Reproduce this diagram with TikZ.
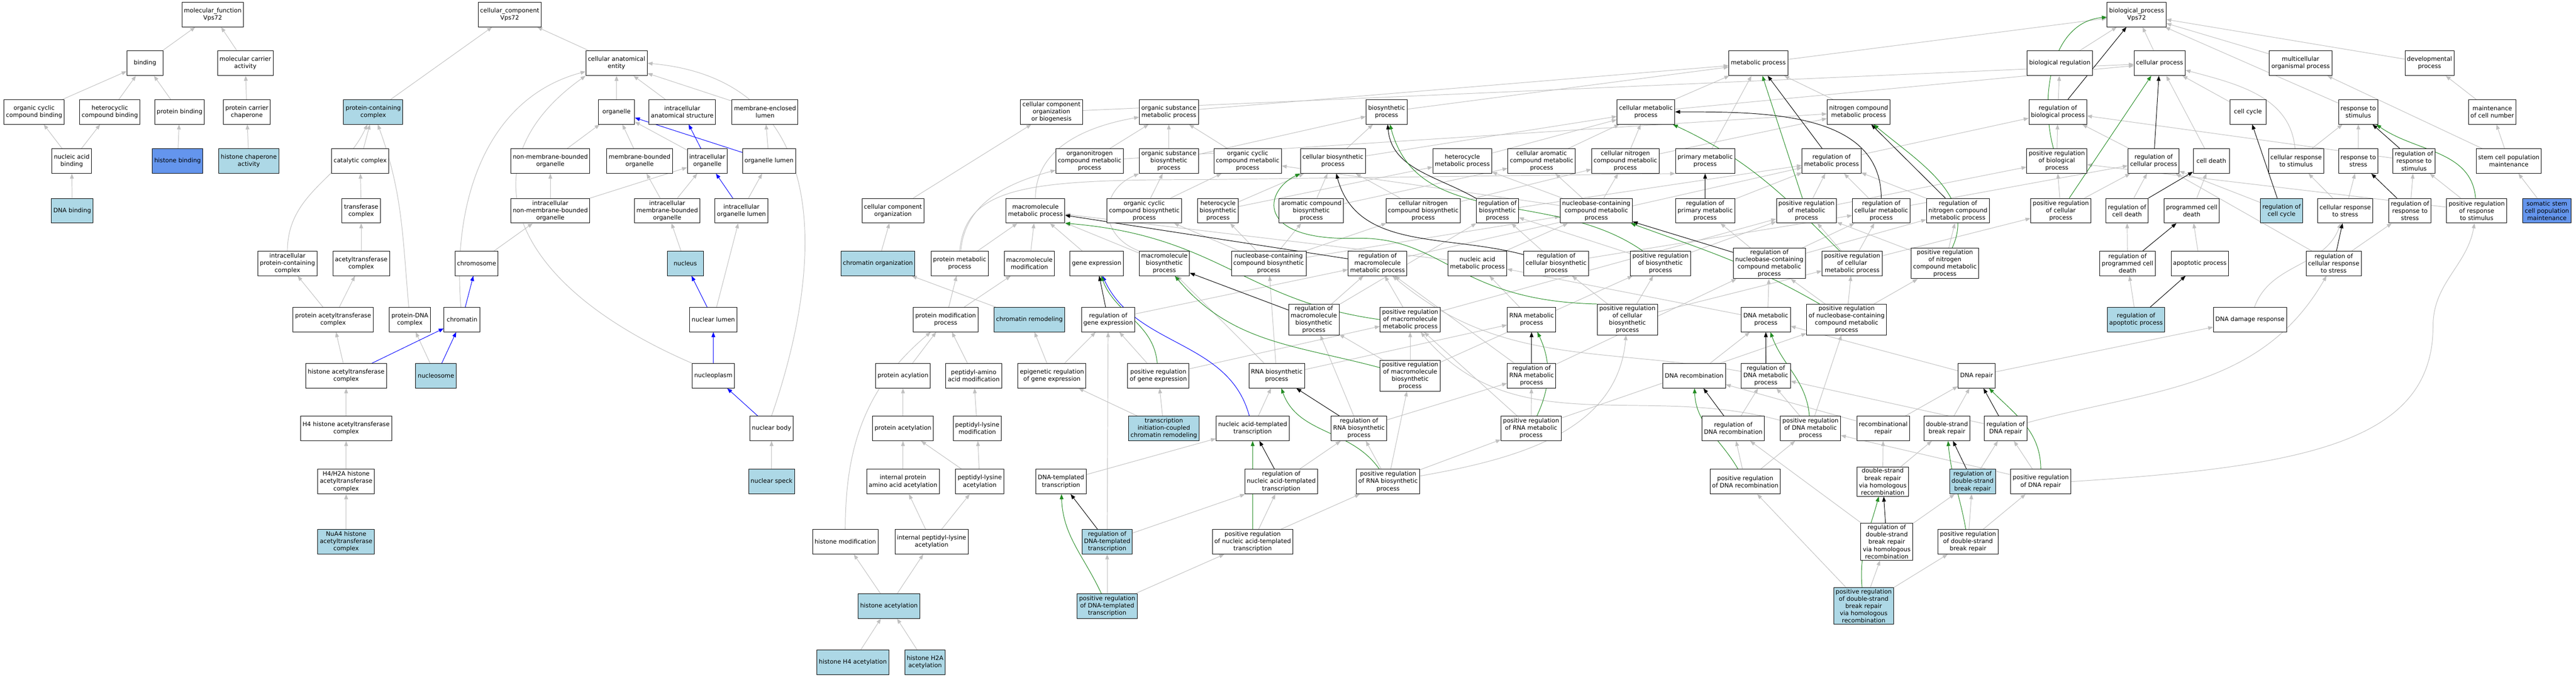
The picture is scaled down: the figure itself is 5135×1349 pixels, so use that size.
\documentclass[tikz,border=0pt]{standalone}
\usepackage{fontspec}
\setmainfont{DejaVu Sans}
\usetikzlibrary{arrows.meta}
\definecolor{lbcol}{HTML}{ADD8E6}
\definecolor{cbcol}{HTML}{6495ED}
\definecolor{egray}{HTML}{C0C0C0}
\definecolor{egreen}{HTML}{228B22}
\pgfdeclarelayer{bglayer}
\pgfdeclarelayer{edgelayer}
\pgfsetlayers{bglayer,edgelayer,main}
\def\rA{-29}\def\rB{-126}\def\rC{-223}\def\rD{-321}\def\rE{-420}\def\rF{-525}\def\rG{-637}
\def\rH{-749}\def\rI{-854}\def\rJ{-960}\def\rK{-1080}\def\rL{-1208}\def\rM{-1320}
\tikzset{
  gobox/.style={draw=black,line width=1pt,fill=white,rectangle,align=center,
    font=\fontsize{12}{14.5}\selectfont,minimum width=72pt,minimum height=49pt,
    inner xsep=4pt,inner ysep=3pt},
  lbbox/.style={gobox,fill=lbcol},
  cbbox/.style={gobox,fill=cbcol},
  isa/.style={draw=egray,line width=1pt,-{Triangle[length=10pt,width=7.5pt]}},
  partof/.style={isa,draw=blue},
  regl/.style={isa,draw=black},
  pregl/.style={isa,draw=egreen}
}
\begin{document}
\begin{tikzpicture}[x=1pt,y=1pt]
\useasboundingbox (0,0) rectangle (5135,-1349);
\begin{pgfonlayer}{bglayer}
\fill[white] (0,0) rectangle (5135,-1349);
\end{pgfonlayer}
% ---------- row A
\node[gobox] (mf) at (424,\rA) {molecular\_function\\Vps72};
\node[gobox] (cc) at (1016,\rA) {cellular\_component\\Vps72};
\node[gobox] (bp) at (4259,\rA) {biological\_process\\Vps72};
% ---------- row B
\node[gobox] (bind) at (289,\rB) {binding};
\node[gobox] (mca) at (489,\rB) {molecular carrier\\activity};
\node[gobox] (cae) at (1229,\rB) {cellular anatomical\\entity};
\node[gobox] (mp) at (3505,\rB) {metabolic process};
\node[gobox] (bioreg) at (4106,\rB) {biological regulation};
\node[gobox] (cp) at (4305,\rB) {cellular process};
\node[gobox] (mop) at (4586,\rB) {multicellular\\organismal process};
\node[gobox] (dev) at (4843,\rB) {developmental\\process};
% ---------- row C
\node[gobox] (ocb) at (68,\rC) {organic cyclic\\compound binding};
\node[gobox] (hcb) at (219,\rC) {heterocyclic\\compound binding};
\node[gobox] (pb) at (358,\rC) {protein binding};
\node[gobox] (pcc) at (492,\rC) {protein carrier\\chaperone};
\node[lbbox] (pcx) at (744,\rC) {protein-containing\\complex};
\node[gobox] (org) at (1229,\rC) {organelle};
\node[gobox] (ias) at (1360,\rC) {intracellular\\anatomical structure};
\node[gobox] (mel) at (1525,\rC) {membrane-enclosed\\lumen};
\node[gobox] (ccoob) at (2096,\rC) {cellular component\\organization\\or biogenesis};
\node[gobox] (osmp) at (2330,\rC) {organic substance\\metabolic process};
\node[gobox] (bsp) at (2764,\rC) {biosynthetic\\process};
\node[gobox] (cmp) at (3281,\rC) {cellular metabolic\\process};
\node[gobox] (ncmp) at (3705,\rC) {nitrogen compound\\metabolic process};
\node[gobox] (rbp) at (4102,\rC) {regulation of\\biological process};
\node[gobox] (ccyc) at (4481,\rC) {cell cycle};
\node[gobox] (rts) at (4701,\rC) {response to\\stimulus};
\node[gobox] (mcn) at (4968,\rC) {maintenance\\of cell number};
% ---------- row D
\node[gobox] (nab) at (143,\rD) {nucleic acid\\binding};
\node[cbbox] (hb) at (354,\rD) {histone binding};
\node[lbbox] (hca) at (496,\rD) {histone chaperone\\activity};
\node[gobox] (catc) at (718,\rD) {catalytic complex};
\node[gobox] (nmbo) at (1097,\rD) {non-membrane-bounded\\organelle};
\node[gobox] (mbo) at (1275,\rD) {membrane-bounded\\organelle};
\node[gobox] (io) at (1410,\rD) {intracellular\\organelle};
\node[gobox] (ol) at (1533,\rD) {organelle lumen};
\node[gobox] (onmp) at (2172,\rD) {organonitrogen\\compound metabolic\\process};
\node[gobox] (osbsp) at (2330,\rD) {organic substance\\biosynthetic\\process};
\node[gobox] (occmp) at (2487,\rD) {organic cyclic\\compound metabolic\\process};
\node[gobox] (cbsp) at (2657,\rD) {cellular biosynthetic\\process};
\node[gobox] (hmp) at (2915,\rD) {heterocycle\\metabolic process};
\node[gobox] (camp) at (3073,\rD) {cellular aromatic\\compound metabolic\\process};
\node[gobox] (cncmp) at (3240,\rD) {cellular nitrogen\\compound metabolic\\process};
\node[gobox] (pmp) at (3399,\rD) {primary metabolic\\process};
\node[gobox] (rmp) at (3651,\rD) {regulation of\\metabolic process};
\node[gobox] (prbp) at (4100,\rD) {positive regulation\\of biological\\process};
\node[gobox] (rcp) at (4293,\rD) {regulation of\\cellular process};
\node[gobox] (cdeath) at (4408,\rD) {cell death};
\node[gobox] (crs) at (4577,\rD) {cellular response\\to stimulus};
\node[gobox] (rstress) at (4701,\rD) {response to\\stress};
\node[gobox] (rrs) at (4812,\rD) {regulation of\\response to\\stimulus};
\node[gobox] (scpm) at (5001,\rD) {stem cell population\\maintenance};
% ---------- row E
\node[lbbox] (dnab) at (144,\rE) {DNA binding};
\node[gobox] (tc) at (720,\rE) {transferase\\complex};
\node[gobox] (inmbo) at (1097,\rE) {intracellular\\non-membrane-bounded\\organelle};
\node[gobox] (imbo) at (1330,\rE) {intracellular\\membrane-bounded\\organelle};
\node[gobox] (iol) at (1478,\rE) {intracellular\\organelle lumen};
\node[gobox] (cco) at (1780,\rE) {cellular component\\organization};
\node[gobox] (mmp) at (2064,\rE) {macromolecule\\metabolic process};
\node[gobox] (occbsp) at (2281,\rE) {organic cyclic\\compound biosynthetic\\process};
\node[gobox] (hbsp) at (2428,\rE) {heterocycle\\biosynthetic\\process};
\node[gobox] (acbsp) at (2614,\rE) {aromatic compound\\biosynthetic\\process};
\node[gobox] (cncbsp) at (2837,\rE) {cellular nitrogen\\compound biosynthetic\\process};
\node[gobox] (rbsp) at (2985,\rE) {regulation of\\biosynthetic\\process};
\node[gobox] (nccmp) at (3182,\rE) {nucleobase-containing\\compound metabolic\\process};
\node[gobox] (rpmp) at (3399,\rE) {regulation of\\primary metabolic\\process};
\node[gobox] (prmp) at (3601,\rE) {positive regulation\\of metabolic\\process};
\node[gobox] (rcmp) at (3750,\rE) {regulation of\\cellular metabolic\\process};
\node[gobox] (rncmp) at (3903,\rE) {regulation of\\nitrogen compound\\metabolic process};
\node[gobox] (prcp) at (4108,\rE) {positive regulation\\of cellular\\process};
\node[gobox] (rcd) at (4240,\rE) {regulation of\\cell death};
\node[gobox] (pcd) at (4369,\rE) {programmed cell\\death};
\node[lbbox] (rcc) at (4548,\rE) {regulation of\\cell cycle};
\node[gobox] (crstress) at (4675,\rE) {cellular response\\to stress};
\node[gobox] (rrstress) at (4804,\rE) {regulation of\\response to\\stress};
\node[gobox] (prrs) at (4937,\rE) {positive regulation\\of response\\to stimulus};
\node[cbbox] (sscpm) at (5077,\rE) {somatic stem\\cell population\\maintenance};
% ---------- row F
\node[gobox] (ipcx) at (573,\rF) {intracellular\\protein-containing\\complex};
\node[gobox] (atc) at (720,\rF) {acetyltransferase\\complex};
\node[gobox] (chrom) at (950,\rF) {chromosome};
\node[lbbox] (nuc) at (1366,\rF) {nucleus};
\node[lbbox] (chro) at (1750,\rF) {chromatin organization};
\node[gobox] (pmetp) at (1913,\rF) {protein metabolic\\process};
\node[gobox] (mmod) at (2052,\rF) {macromolecule\\modification};
\node[gobox] (ge) at (2186,\rF) {gene expression};
\node[gobox] (mbsp) at (2321,\rF) {macromolecule\\biosynthetic\\process};
\node[gobox] (ncbsp) at (2529,\rF) {nucleobase-containing\\compound biosynthetic\\process};
\node[gobox] (rmmp) at (2746,\rF) {regulation of\\macromolecule\\metabolic process};
\node[gobox] (nam) at (2945,\rF) {nucleic acid\\metabolic process};
\node[gobox] (rcbsp) at (3102,\rF) {regulation of\\cellular biosynthetic\\process};
\node[gobox] (pbsp) at (3310,\rF) {positive regulation\\of biosynthetic\\process};
\node[gobox] (rnccmp) at (3527,\rF) {regulation of\\nucleobase-containing\\compound metabolic\\process};
\node[gobox] (prcmp) at (3692,\rF) {positive regulation\\of cellular\\metabolic process};
\node[gobox] (pncmp) at (3877,\rF) {positive regulation\\of nitrogen\\compound metabolic\\process};
\node[gobox] (rpcd) at (4241,\rF) {regulation of\\programmed cell\\death};
\node[gobox] (apop) at (4385,\rF) {apoptotic process};
\node[gobox] (rcrstress) at (4652,\rF) {regulation of\\cellular response\\to stress};
% ---------- row G
\node[gobox] (patc) at (664,\rG) {protein acetyltransferase\\complex};
\node[gobox] (pdna) at (817,\rG) {protein-DNA\\complex};
\node[gobox] (chrt) at (921,\rG) {chromatin};
\node[gobox] (nlum) at (1422,\rG) {nuclear lumen};
\node[gobox] (pmod) at (1885,\rG) {protein modification\\process};
\node[lbbox] (crem) at (2052,\rG) {chromatin remodeling};
\node[gobox] (rge) at (2209,\rG) {regulation of\\gene expression};
\node[gobox] (rmbsp) at (2619,\rG) {regulation of\\macromolecule\\biosynthetic\\process};
\node[gobox] (pmmp) at (2811,\rG) {positive regulation\\of macromolecule\\metabolic process};
\node[gobox] (rnamp) at (3053,\rG) {RNA metabolic\\process};
\node[gobox] (pcbsp) at (3244,\rG) {positive regulation\\of cellular\\biosynthetic\\process};
\node[gobox] (dnamp) at (3520,\rG) {DNA metabolic\\process};
\node[gobox] (prnccmp) at (3681,\rG) {positive regulation\\of nucleobase-containing\\compound metabolic\\process};
\node[lbbox] (rap) at (4258,\rG) {regulation of\\apoptotic process};
\node[gobox] (ddr) at (4485,\rG) {DNA damage response};
% ---------- row H
\node[gobox] (hatc) at (690,\rH) {histone acetyltransferase\\complex};
\node[lbbox] (nucl) at (869,\rH) {nucleosome};
\node[gobox] (nplasm) at (1422,\rH) {nucleoplasm};
\node[gobox] (pacyl) at (1800,\rH) {protein acylation};
\node[gobox] (paam) at (1941,\rH) {peptidyl-amino\\acid modification};
\node[gobox] (erge) at (2097,\rH) {epigenetic regulation\\of gene expression};
\node[gobox] (pge) at (2309,\rH) {positive regulation\\of gene expression};
\node[gobox] (rnabsp) at (2545,\rH) {RNA biosynthetic\\process};
\node[gobox] (pmbsp) at (2811,\rH) {positive regulation\\of macromolecule\\biosynthetic\\process};
\node[gobox] (rrnamp) at (3053,\rH) {regulation of\\RNA metabolic\\process};
\node[gobox] (dnarec) at (3377,\rH) {DNA recombination};
\node[gobox] (rdnamp) at (3520,\rH) {regulation of\\DNA metabolic\\process};
\node[gobox] (dnarep) at (3940,\rH) {DNA repair};
% ---------- row I
\node[gobox] (h4hatc) at (690,\rI) {H4 histone acetyltransferase\\complex};
\node[gobox] (nbody) at (1538,\rI) {nuclear body};
\node[gobox] (pacet) at (1800,\rI) {protein acetylation};
\node[gobox] (plm) at (1948,\rI) {peptidyl-lysine\\modification};
\node[lbbox] (ticr) at (2320,\rI) {transcription\\initiation-coupled\\chromatin remodeling};
\node[gobox] (natt) at (2497,\rI) {nucleic acid-templated\\transcription};
\node[gobox] (rrnabsp) at (2709,\rI) {regulation of\\RNA biosynthetic\\process};
\node[gobox] (prnamp) at (3052,\rI) {positive regulation\\of RNA metabolic\\process};
\node[gobox] (rdnarec) at (3455,\rI) {regulation of\\DNA recombination};
\node[gobox] (pdnamp) at (3609,\rI) {positive regulation\\of DNA metabolic\\process};
\node[gobox] (recrep) at (3754,\rI) {recombinational\\repair};
\node[gobox] (dsbr) at (3881,\rI) {double-strand\\break repair};
\node[gobox] (rdnarep) at (3998,\rI) {regulation of\\DNA repair};
% ---------- row J
\node[gobox] (h4h2a) at (690,\rJ) {H4/H2A histone\\acetyltransferase\\complex};
\node[lbbox] (nspeck) at (1538,\rJ) {nuclear speck};
\node[gobox] (ipaa) at (1800,\rJ) {internal protein\\amino acid acetylation};
\node[gobox] (pla) at (1953,\rJ) {peptidyl-lysine\\acetylation};
\node[gobox] (dtt) at (2115,\rJ) {DNA-templated\\transcription};
\node[gobox] (rnatt) at (2554,\rJ) {regulation of\\nucleic acid-templated\\transcription};
\node[gobox] (prnabsp) at (2767,\rJ) {positive regulation\\of RNA biosynthetic\\process};
\node[gobox] (pdnarec) at (3479,\rJ) {positive regulation\\of DNA recombination};
\node[gobox] (dsbrhr) at (3753,\rJ) {double-strand\\break repair\\via homologous\\recombination};
\node[lbbox] (rdsbr) at (3932,\rJ) {regulation of\\double-strand\\break repair};
\node[gobox] (pdnarep) at (4068,\rJ) {positive regulation\\of DNA repair};
% ---------- row K
\node[lbbox] (nua4) at (690,\rK) {NuA4 histone\\acetyltransferase\\complex};
\node[gobox] (hmod) at (1685,\rK) {histone modification};
\node[gobox] (ipla) at (1857,\rK) {internal peptidyl-lysine\\acetylation};
\node[lbbox] (rdtt) at (2207,\rK) {regulation of\\DNA-templated\\transcription};
\node[gobox] (pnatt) at (2497,\rK) {positive regulation\\of nucleic acid-templated\\transcription};
\node[gobox] (rdsbrhr) at (3761,\rK) {regulation of\\double-strand\\break repair\\via homologous\\recombination};
\node[gobox] (pdsbr) at (3923,\rK) {positive regulation\\of double-strand\\break repair};
% ---------- row L
\node[lbbox] (hacet) at (1772,\rL) {histone acetylation};
\node[lbbox] (pdtt) at (2207,\rL) {positive regulation\\of DNA-templated\\transcription};
\node[lbbox] (pdsbrhr) at (3715,\rL) {positive regulation\\of double-strand\\break repair\\via homologous\\recombination};
% ---------- row M
\node[lbbox] (h4a) at (1700,\rM) {histone H4 acetylation};
\node[lbbox] (h2aa) at (1844,\rM) {histone H2A\\acetylation};

\begin{pgfonlayer}{edgelayer}
% straight is_a edges
\foreach \a/\b in {bind/mf,mca/mf,ocb/bind,hcb/bind,pb/bind,pcc/mca,nab/ocb,nab/hcb,hb/pb,hca/pcc,dnab/nab,
 pcx/cc,cae/cc,org/cae,ias/cae,mel/cae,catc/pcx,nmbo/org,mbo/org,io/org,ol/mel,tc/catc,inmbo/nmbo,inmbo/io,
 imbo/mbo,imbo/io,iol/ol,atc/tc,chrom/inmbo,nuc/imbo,patc/ipcx,patc/atc,nlum/iol,hatc/patc,nucl/pdna,
 h4hatc/hatc,h4h2a/h4hatc,nua4/h4h2a,nspeck/nbody,
 bioreg/bp,cp/bp,mop/bp,dev/bp,rts/bp,mp/bp,rbp/bioreg,ccyc/cp,cdeath/cp,crs/rts,rstress/rts,rrs/rbp,
 scpm/mcn,scpm/mop,mcn/dev,sscpm/scpm,prbp/rbp,rcp/rbp,prcp/prbp,prcp/rcp,rcd/rcp,pcd/cdeath,rcc/rcp,
 crstress/crs,crstress/rstress,rrstress/rrs,prrs/rrs,prrs/prbp,rpcd/rcd,apop/pcd,rcrstress/rrstress,
 rcrstress/rcp,rap/rpcd,dnarep/ddr,rmp/rbp,prmp/prbp,rcmp/rcp,prcmp/prcp,ccoob/cp,cmp/cp,
 osmp/mp,bsp/mp,cmp/mp,ncmp/mp,pmp/mp,onmp/osmp,onmp/ncmp,osbsp/osmp,osbsp/bsp,occmp/osmp,
 cco/ccoob,chro/cco,crem/chro,pmetp/mmp,mmod/mmp,ge/mmp,mbsp/mmp,
 occbsp/osbsp,occbsp/occmp,hbsp/hmp,hbsp/cbsp,acbsp/cbsp,acbsp/camp,cbsp/bsp,cbsp/cmp,hmp/cmp,camp/cmp,
 cncmp/cmp,cncmp/ncmp,cncbsp/cbsp,cncbsp/cncmp,nccmp/hmp,nccmp/camp,nccmp/cncmp,nccmp/occmp,
 ncbsp/occbsp,ncbsp/hbsp,ncbsp/acbsp,ncbsp/cncbsp,ncbsp/nccmp,
 rbsp/rmp,rpmp/rmp,prmp/rmp,rcmp/rmp,rncmp/rmp,pncmp/rncmp,pncmp/prmp,rmmp/rmp,nam/nccmp,nam/mmp,
 rcbsp/rbsp,rcbsp/rcmp,pbsp/rbsp,pbsp/prmp,rnccmp/rcmp,rnccmp/rncmp,rnccmp/rpmp,prcmp/rcmp,prcmp/prmp,
 rmbsp/rmmp,rmbsp/rbsp,pmmp/rmmp,pmmp/prmp,rnamp/nam,pcbsp/pbsp,pcbsp/rcbsp,pcbsp/prcmp,dnamp/nam,
 prnccmp/rnccmp,prnccmp/prcmp,prnccmp/pncmp,pmod/pmetp,pmod/mmod,rge/rmmp,erge/rge,erge/crem,pge/rge,
 pge/pmmp,rnabsp/rnamp,rnabsp/ncbsp,rnabsp/mbsp,pmbsp/rmbsp,pmbsp/pmmp,pmbsp/pbsp,rrnamp/rnccmp,
 rrnamp/rmmp,dnarec/dnamp,rdnamp/rnccmp,dnarep/dnamp,pacyl/pmod,paam/pmod,pacet/pacyl,plm/paam,
 ticr/erge,ticr/pge,natt/rnabsp,rrnabsp/rrnamp,rrnabsp/rmbsp,prnamp/rrnamp,prnamp/prnccmp,prnamp/pmmp,
 rdnarec/rdnamp,pdnamp/rdnamp,pdnamp/prnccmp,recrep/dnarep,recrep/dnarec,dsbr/dnarep,rdnarep/rdnamp,
 ipaa/pacet,pla/pacet,pla/plm,dtt/natt,rnatt/rrnabsp,prnabsp/rrnabsp,prnabsp/pmbsp,prnabsp/prnamp,
 pdnarec/rdnarec,pdnarec/pdnamp,dsbrhr/recrep,dsbrhr/dsbr,rdsbr/rdnarep,pdnarep/rdnarep,pdnarep/pdnamp,
 ipla/ipaa,ipla/pla,rdtt/rnatt,rdtt/rge,pnatt/rnatt,pnatt/prnabsp,rdsbrhr/rdnarec,rdsbrhr/rdsbr,
 pdsbr/rdsbr,pdsbr/pdnarep,hacet/hmod,hacet/ipla,pdtt/rdtt,pdtt/pnatt,pdsbrhr/rdsbrhr,pdsbrhr/pdnarec,
 pdsbrhr/pdsbr,h4a/hacet,h2aa/hacet}
 {\draw[isa] (\a) -- (\b);}
% curved is_a edges
\draw[isa] (ipcx) to[out=90,in=-115] (pcx);
\draw[isa] (pdna) to[out=95,in=-70] (pcx);
\draw[isa] (chrt) to[out=95,in=195] (cae);
\draw[isa] (nplasm.north west) .. controls (1000,-560) and (930,-320) .. (cae.south west);
\draw[isa] (nbody.north) .. controls (1645,-520) and (1660,-160) .. (cae.east);
\draw[isa] (hmod) to[out=90,in=-140] (pmod);
\draw[isa] (mmp) to[out=90,in=190] (osmp);
\draw[isa] (pmetp) to[out=85,in=195] (onmp);
\draw[isa] (pmetp.north) .. controls (1925,-370) and (2050,-358) .. (2400,-358) -- (pmp.south west);
\draw[isa] (mbsp.north west) .. controls (2190,-470) and (2190,-380) .. (osbsp.south west);
\draw[isa] (rdnamp) to[out=170,in=-40] (rmmp);
\draw[isa] (pdnamp) to[out=165,in=-50] (pmmp);
\draw[isa] (rdnarep) to[out=15,in=-120] (rcrstress);
\draw[isa] (pdnarep.east) .. controls (4600,-930) and (4850,-880) .. (4850,-650) to[out=90,in=-100] (prrs);
\draw[isa] (prnabsp) to[out=10,in=-95] (pcbsp);
\draw[isa] (ddr) to[out=70,in=-110] (crstress);
\draw[isa] (crs) to[out=95,in=-15] (cp);
% part_of edges
\foreach \a/\b in {io/ias,ol/org,iol/io,nlum/nuc,nplasm/nlum,nbody/nplasm,chrt/chrom,hatc/chrt,nucl/chrt}
 {\draw[partof] (\a) -- (\b);}
\draw[partof] (natt) to[out=105,in=-65] (ge);
% regulates edges
\foreach \a/\b in {rbp/bp,rcp/cp,rcd/cdeath,rpcd/pcd,rap/apop,rcc/ccyc,rrs/rts,rrstress/rstress,
 rcrstress/crstress,rmp/mp,rncmp/ncmp,rnccmp/nccmp,rpmp/pmp,rmmp/mmp,rmbsp/mbsp,rge/ge,rnatt/natt,
 rrnabsp/rnabsp,rdtt/dtt,rrnamp/rnamp,rdnamp/dnamp,rdnarec/dnarec,rdnarep/dnarep,rdsbr/dsbr,rdsbrhr/dsbrhr}
 {\draw[regl] (\a) -- (\b);}
\draw[regl] (rcmp) to[out=90,in=0] (cmp);
\draw[regl] (rbsp) to[out=150,in=-85] (bsp);
\draw[regl] (rcbsp) to[out=165,in=-75] (cbsp);
% positively regulates edges
\foreach \a/\b in {prcp/cp,prmp/mp,pnatt/natt}
 {\draw[pregl] (\a) -- (\b);}
\draw[pregl] (prbp) to[out=105,in=185] (bp);
\draw[pregl] (prcmp) to[out=135,in=-25] (cmp);
\draw[pregl] (pncmp) to[out=65,in=-40] (ncmp);
\draw[pregl] (pbsp) to[out=145,in=-75] (bsp);
\draw[pregl] (pcbsp.north west) .. controls (2900,-600) and (2880,-470) .. (2700,-475) .. controls (2500,-480) and (2520,-380) .. (cbsp.south west);
\draw[pregl] (prnccmp) to[out=150,in=-20] (nccmp);
\draw[pregl] (pmmp.west) .. controls (2480,-600) and (2430,-470) .. (mmp.south east);
\draw[pregl] (pmbsp) to[out=165,in=-50] (mbsp);
\draw[pregl] (pge) to[out=95,in=-70] (ge);
\draw[pregl] (prnabsp) to[out=125,in=-70] (rnabsp);
\draw[pregl] (pdtt) to[out=115,in=-88] (dtt);
\draw[pregl] (prnamp) to[out=65,in=-65] (rnamp);
\draw[pregl] (pdnamp) to[out=95,in=-70] (dnamp);
\draw[pregl] (pdnarec) to[out=120,in=-88] (dnarec);
\draw[pregl] (pdsbrhr) to[out=95,in=-105] (dsbrhr);
\draw[pregl] (pdnarep) to[out=90,in=-45] (dnarep);
\draw[pregl] (pdsbr) to[out=100,in=-85] (dsbr);
\draw[pregl] (prrs) to[out=95,in=-35] (rts);
\end{pgfonlayer}
\end{tikzpicture}
\end{document}
